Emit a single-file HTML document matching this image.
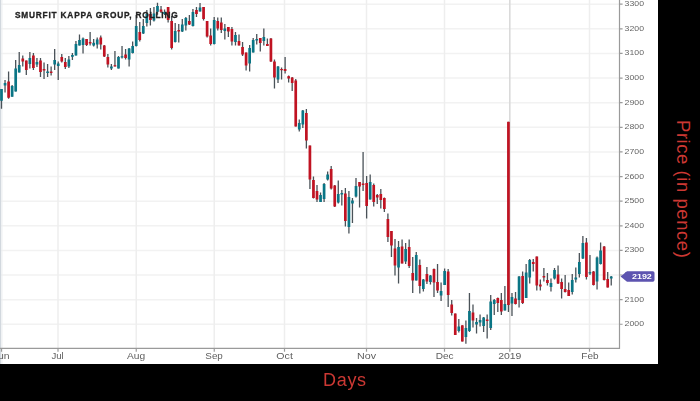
<!DOCTYPE html>
<html><head><meta charset="utf-8"><style>
html,body{margin:0;padding:0;background:#000;width:700px;height:401px;overflow:hidden;}
#w{position:absolute;left:0;top:0;width:658px;height:364px;background:#fff;will-change:transform;}
svg{display:block;}
.days{will-change:transform;position:absolute;left:322.5px;top:371px;font-family:"Liberation Sans",sans-serif;font-size:18px;letter-spacing:0.7px;color:#cc3833;line-height:18px;}
.price{position:absolute;left:691.5px;top:119.5px;font-family:"Liberation Sans",sans-serif;font-size:18.5px;letter-spacing:0.55px;color:#cc3833;line-height:18px;white-space:nowrap;transform-origin:0 0;transform:rotate(90deg);}
</style></head><body>
<div id="w"><svg width="658" height="364" viewBox="0 0 658 364"><g stroke="#f2f2f2" stroke-width="1.5"><line x1="0" y1="4.20" x2="619" y2="4.20"/><line x1="0" y1="28.82" x2="619" y2="28.82"/><line x1="0" y1="53.44" x2="619" y2="53.44"/><line x1="0" y1="78.06" x2="619" y2="78.06"/><line x1="0" y1="102.68" x2="619" y2="102.68"/><line x1="0" y1="127.30" x2="619" y2="127.30"/><line x1="0" y1="151.92" x2="619" y2="151.92"/><line x1="0" y1="176.54" x2="619" y2="176.54"/><line x1="0" y1="201.16" x2="619" y2="201.16"/><line x1="0" y1="225.78" x2="619" y2="225.78"/><line x1="0" y1="250.40" x2="619" y2="250.40"/><line x1="0" y1="275.02" x2="619" y2="275.02"/><line x1="0" y1="299.64" x2="619" y2="299.64"/><line x1="0" y1="324.26" x2="619" y2="324.26"/></g><g stroke="#eeeeee" stroke-width="1.5"><line x1="58.00" y1="0" x2="58.00" y2="348"/><line x1="136.25" y1="0" x2="136.25" y2="348"/><line x1="214.25" y1="0" x2="214.25" y2="348"/><line x1="284.50" y1="0" x2="284.50" y2="348"/><line x1="366.50" y1="0" x2="366.50" y2="348"/><line x1="444.50" y1="0" x2="444.50" y2="348"/><line x1="589.50" y1="0" x2="589.50" y2="348"/></g><rect x="0" y="0" width="1.3" height="364" fill="#d2d8de"/><line x1="2" y1="0" x2="2" y2="364" stroke="#eef0f2" stroke-width="1"/><line x1="509.8" y1="0" x2="509.8" y2="348" stroke="#dadada" stroke-width="1.6"/><path d="M1.50 89.00V108.75M5.04 80.00V92.50M8.59 71.50V98.75M12.13 85.00V96.75M15.68 60.00V91.50M19.23 52.00V72.50M22.77 55.50V66.50M26.31 60.50V75.00M29.86 52.00V68.50M33.41 53.00V70.00M36.95 58.00V67.00M40.49 58.00V77.00M44.04 62.50V79.00M47.59 64.00V77.00M51.13 66.50V75.50M54.67 49.00V70.00M58.22 61.50V80.00M61.77 54.00V62.50M65.31 58.00V69.00M68.86 56.00V68.00M72.40 53.00V60.00M75.94 41.00V55.50M79.49 34.50V45.50M83.03 37.50V53.50M86.58 39.00V46.00M90.12 32.00V45.50M93.67 39.00V46.50M97.22 37.50V48.50M100.76 35.50V49.50M104.30 45.00V57.00M107.85 54.00V67.50M111.39 64.00V70.00M114.94 51.00V66.50M118.48 56.00V68.50M122.03 46.00V58.50M125.58 49.00V59.50M129.12 48.00V66.50M132.66 41.50V53.50M136.21 15.00V46.50M139.75 22.00V41.50M143.30 19.00V34.00M146.84 10.00V26.50M150.39 8.00V25.50M153.94 7.00V21.50M157.48 2.80V14.80M161.03 6.00V13.00M164.57 9.50V15.00M168.12 7.00V22.50M171.66 16.00V49.50M175.20 23.00V42.50M178.75 24.00V42.50M182.29 19.00V32.00M185.84 17.00V30.50M189.38 15.00V25.00M192.93 9.00V26.50M196.47 7.00V17.00M200.02 3.00V11.50M203.56 7.00V20.50M207.11 21.00V37.50M210.66 28.50V45.50M214.20 17.00V44.50M217.75 17.50V30.50M221.29 17.50V33.00M224.84 24.00V39.50M228.38 27.00V37.00M231.92 27.00V45.50M235.47 32.00V45.50M239.01 34.50V45.50M242.56 42.00V56.00M246.10 52.50V70.50M249.65 45.00V71.50M253.19 38.00V52.50M256.74 34.00V44.50M260.28 38.00V51.50M263.83 28.50V45.50M267.38 38.50V46.00M270.92 38.00V62.00M274.46 59.50V88.50M278.01 66.00V83.00M281.56 67.50V79.50M285.10 57.00V73.50M288.64 75.50V82.50M292.19 77.00V91.00M295.74 79.00V126.50M299.28 119.50V131.50M302.82 110.00V128.00M306.37 109.00V148.50M309.92 145.50V189.00M313.46 176.50V198.50M317.00 185.00V202.00M320.55 192.50V202.00M324.09 183.00V202.00M327.64 171.50V180.50M331.19 166.00V189.50M334.73 185.00V207.00M338.27 180.50V203.50M341.82 190.00V205.50M345.37 188.00V226.50M348.91 191.00V233.50M352.45 198.00V223.00M356.00 178.00V197.50M359.55 182.00V207.50M363.09 152.00V191.00M366.63 176.00V218.50M370.18 174.50V199.50M373.72 183.50V206.50M377.27 194.00V204.00M380.81 189.00V208.50M384.36 197.50V212.00M387.90 213.50V242.00M391.45 231.00V257.00M395.00 239.00V275.50M398.54 241.00V283.50M402.08 239.50V263.50M405.63 243.00V264.00M409.18 239.50V268.00M412.72 257.00V293.00M416.26 252.00V280.50M419.81 259.50V293.50M423.36 279.00V291.50M426.90 267.00V284.00M430.44 275.00V284.50M433.99 268.50V297.00M437.53 264.00V293.00M441.08 282.50V301.00M444.62 268.50V285.00M448.17 269.00V307.00M451.71 300.00V315.50M455.26 313.50V335.00M458.81 319.00V332.50M462.35 325.30V341.50M465.89 320.50V343.70M469.44 293.00V332.00M472.99 304.50V327.50M476.53 318.00V333.50M480.07 314.50V326.50M483.62 317.00V332.00M487.16 314.50V338.50M490.71 295.00V330.00M494.25 299.00V315.00M497.80 297.50V312.00M501.34 293.00V315.00M504.89 286.00V310.50M508.44 121.80V312.00M511.98 293.00V316.00M515.52 292.00V304.50M519.07 276.00V307.50M522.62 271.50V304.00M526.16 264.00V298.00M529.71 259.00V283.50M533.25 259.00V271.50M536.79 256.50V290.50M540.34 279.50V290.50M543.88 268.00V281.50M547.43 273.00V285.50M550.98 278.50V291.50M554.52 268.00V279.50M558.06 265.50V284.00M561.61 278.50V298.50M565.15 275.00V292.50M568.70 282.50V296.00M572.25 274.00V294.50M575.79 267.50V282.50M579.34 253.00V277.50M582.88 236.00V259.00M586.42 238.00V279.50M589.97 255.00V275.00M593.51 271.00V285.50M597.06 256.50V289.50M600.61 242.50V264.50M604.15 246.00V280.50M607.69 272.00V287.50M611.24 276.00V285.50" stroke="#4a5258" stroke-width="1.3" fill="none"/><g fill="#0a7585"><rect x="0.15" y="89.00" width="2.7" height="11.75"/><rect x="3.69" y="83.00" width="2.7" height="2.50"/><rect x="10.79" y="86.00" width="2.7" height="10.75"/><rect x="14.33" y="68.50" width="2.7" height="23.00"/><rect x="17.88" y="65.00" width="2.7" height="7.50"/><rect x="28.51" y="58.00" width="2.7" height="6.00"/><rect x="35.60" y="62.00" width="2.7" height="2.50"/><rect x="46.23" y="71.50" width="2.7" height="1.50"/><rect x="53.32" y="60.00" width="2.7" height="4.50"/><rect x="56.87" y="63.50" width="2.7" height="2.50"/><rect x="67.51" y="59.50" width="2.7" height="7.00"/><rect x="71.05" y="55.00" width="2.7" height="1.80"/><rect x="74.59" y="44.00" width="2.7" height="11.50"/><rect x="78.14" y="40.00" width="2.7" height="5.50"/><rect x="81.69" y="38.50" width="2.7" height="6.50"/><rect x="92.32" y="42.80" width="2.7" height="2.70"/><rect x="95.87" y="39.50" width="2.7" height="5.00"/><rect x="110.05" y="66.50" width="2.7" height="2.00"/><rect x="117.14" y="57.00" width="2.7" height="11.50"/><rect x="120.68" y="56.20" width="2.7" height="1.30"/><rect x="127.77" y="48.50" width="2.7" height="11.00"/><rect x="131.31" y="46.00" width="2.7" height="7.00"/><rect x="134.86" y="26.00" width="2.7" height="20.00"/><rect x="141.95" y="26.00" width="2.7" height="7.50"/><rect x="145.50" y="14.00" width="2.7" height="9.00"/><rect x="152.59" y="13.50" width="2.7" height="7.00"/><rect x="156.13" y="6.00" width="2.7" height="5.80"/><rect x="163.22" y="12.00" width="2.7" height="2.00"/><rect x="173.85" y="31.00" width="2.7" height="11.00"/><rect x="180.94" y="24.50" width="2.7" height="7.00"/><rect x="184.49" y="18.00" width="2.7" height="7.50"/><rect x="191.58" y="12.00" width="2.7" height="14.00"/><rect x="198.67" y="7.50" width="2.7" height="4.00"/><rect x="212.85" y="20.00" width="2.7" height="24.00"/><rect x="223.49" y="28.50" width="2.7" height="2.50"/><rect x="234.12" y="35.00" width="2.7" height="7.00"/><rect x="248.30" y="48.00" width="2.7" height="15.50"/><rect x="251.84" y="40.00" width="2.7" height="12.50"/><rect x="255.39" y="39.00" width="2.7" height="1.50"/><rect x="262.48" y="37.00" width="2.7" height="4.00"/><rect x="276.66" y="66.50" width="2.7" height="13.00"/><rect x="297.93" y="123.00" width="2.7" height="6.50"/><rect x="301.47" y="110.50" width="2.7" height="14.00"/><rect x="319.20" y="195.00" width="2.7" height="7.00"/><rect x="322.74" y="184.00" width="2.7" height="15.00"/><rect x="326.29" y="174.50" width="2.7" height="5.00"/><rect x="336.92" y="194.00" width="2.7" height="8.50"/><rect x="340.47" y="193.00" width="2.7" height="1.50"/><rect x="347.56" y="197.00" width="2.7" height="30.00"/><rect x="351.10" y="200.50" width="2.7" height="3.00"/><rect x="354.65" y="186.00" width="2.7" height="10.50"/><rect x="368.83" y="182.00" width="2.7" height="17.50"/><rect x="397.19" y="247.00" width="2.7" height="20.50"/><rect x="404.28" y="249.00" width="2.7" height="12.50"/><rect x="414.91" y="255.00" width="2.7" height="25.50"/><rect x="422.00" y="279.50" width="2.7" height="9.50"/><rect x="429.09" y="275.50" width="2.7" height="6.50"/><rect x="439.73" y="291.00" width="2.7" height="4.50"/><rect x="443.27" y="271.00" width="2.7" height="14.00"/><rect x="457.45" y="326.50" width="2.7" height="4.50"/><rect x="464.54" y="328.00" width="2.7" height="9.00"/><rect x="468.09" y="311.00" width="2.7" height="20.00"/><rect x="475.18" y="322.00" width="2.7" height="2.50"/><rect x="478.72" y="320.00" width="2.7" height="2.50"/><rect x="482.27" y="317.50" width="2.7" height="8.50"/><rect x="489.36" y="301.50" width="2.7" height="26.50"/><rect x="492.90" y="300.00" width="2.7" height="4.00"/><rect x="503.54" y="304.00" width="2.7" height="6.50"/><rect x="510.63" y="297.00" width="2.7" height="6.50"/><rect x="517.72" y="276.50" width="2.7" height="23.50"/><rect x="524.81" y="272.50" width="2.7" height="25.50"/><rect x="528.36" y="260.00" width="2.7" height="17.50"/><rect x="549.62" y="283.00" width="2.7" height="4.00"/><rect x="553.17" y="270.00" width="2.7" height="8.50"/><rect x="570.89" y="280.00" width="2.7" height="12.00"/><rect x="574.44" y="277.50" width="2.7" height="2.00"/><rect x="577.99" y="262.00" width="2.7" height="12.00"/><rect x="581.53" y="243.00" width="2.7" height="15.50"/><rect x="588.62" y="272.00" width="2.7" height="1.50"/><rect x="595.71" y="257.50" width="2.7" height="24.00"/><rect x="599.25" y="250.50" width="2.7" height="13.50"/><rect x="609.89" y="276.50" width="2.7" height="2.00"/></g><g fill="#c01322"><rect x="7.24" y="81.50" width="2.7" height="16.25"/><rect x="21.42" y="58.50" width="2.7" height="3.00"/><rect x="24.96" y="60.50" width="2.7" height="9.50"/><rect x="32.05" y="55.50" width="2.7" height="12.50"/><rect x="39.14" y="60.50" width="2.7" height="11.50"/><rect x="42.69" y="69.00" width="2.7" height="1.50"/><rect x="49.78" y="71.50" width="2.7" height="1.50"/><rect x="60.41" y="57.00" width="2.7" height="4.50"/><rect x="63.96" y="62.00" width="2.7" height="5.00"/><rect x="85.23" y="39.00" width="2.7" height="6.00"/><rect x="88.78" y="42.00" width="2.7" height="1.50"/><rect x="99.41" y="37.50" width="2.7" height="7.00"/><rect x="102.95" y="45.50" width="2.7" height="11.00"/><rect x="106.50" y="57.00" width="2.7" height="7.50"/><rect x="113.59" y="65.20" width="2.7" height="1.30"/><rect x="124.23" y="54.50" width="2.7" height="3.50"/><rect x="138.41" y="32.00" width="2.7" height="8.00"/><rect x="149.04" y="14.00" width="2.7" height="6.00"/><rect x="159.68" y="9.50" width="2.7" height="2.30"/><rect x="166.77" y="7.00" width="2.7" height="13.00"/><rect x="170.31" y="21.00" width="2.7" height="27.00"/><rect x="177.40" y="30.00" width="2.7" height="1.50"/><rect x="188.03" y="21.00" width="2.7" height="3.50"/><rect x="195.12" y="10.00" width="2.7" height="4.00"/><rect x="202.22" y="7.00" width="2.7" height="12.00"/><rect x="205.76" y="21.00" width="2.7" height="15.50"/><rect x="209.31" y="35.50" width="2.7" height="8.50"/><rect x="216.40" y="21.00" width="2.7" height="7.50"/><rect x="219.94" y="22.50" width="2.7" height="7.50"/><rect x="227.03" y="27.00" width="2.7" height="4.50"/><rect x="230.57" y="29.00" width="2.7" height="12.50"/><rect x="237.66" y="41.00" width="2.7" height="4.50"/><rect x="241.21" y="47.00" width="2.7" height="7.50"/><rect x="244.75" y="52.50" width="2.7" height="13.00"/><rect x="258.93" y="38.00" width="2.7" height="5.00"/><rect x="266.02" y="44.00" width="2.7" height="2.00"/><rect x="269.57" y="38.50" width="2.7" height="23.00"/><rect x="273.11" y="61.50" width="2.7" height="16.00"/><rect x="280.20" y="69.00" width="2.7" height="1.20"/><rect x="283.75" y="69.00" width="2.7" height="2.00"/><rect x="287.29" y="76.20" width="2.7" height="2.30"/><rect x="290.84" y="77.50" width="2.7" height="5.50"/><rect x="294.38" y="80.50" width="2.7" height="46.00"/><rect x="305.02" y="113.00" width="2.7" height="27.50"/><rect x="308.56" y="145.50" width="2.7" height="34.00"/><rect x="312.11" y="180.00" width="2.7" height="18.00"/><rect x="315.65" y="191.00" width="2.7" height="8.50"/><rect x="329.83" y="169.00" width="2.7" height="19.50"/><rect x="333.38" y="185.50" width="2.7" height="21.00"/><rect x="344.01" y="193.50" width="2.7" height="27.50"/><rect x="358.19" y="182.00" width="2.7" height="4.50"/><rect x="361.74" y="183.50" width="2.7" height="1.50"/><rect x="365.28" y="183.00" width="2.7" height="23.00"/><rect x="372.37" y="185.00" width="2.7" height="17.00"/><rect x="375.92" y="195.00" width="2.7" height="2.50"/><rect x="379.46" y="194.00" width="2.7" height="6.00"/><rect x="383.01" y="198.00" width="2.7" height="11.00"/><rect x="386.55" y="219.00" width="2.7" height="18.00"/><rect x="390.10" y="231.00" width="2.7" height="14.50"/><rect x="393.64" y="248.50" width="2.7" height="17.00"/><rect x="400.73" y="246.50" width="2.7" height="17.00"/><rect x="407.82" y="247.00" width="2.7" height="19.00"/><rect x="411.37" y="273.00" width="2.7" height="7.50"/><rect x="418.46" y="265.00" width="2.7" height="21.00"/><rect x="425.55" y="274.00" width="2.7" height="7.50"/><rect x="432.64" y="269.00" width="2.7" height="13.50"/><rect x="436.18" y="282.00" width="2.7" height="8.50"/><rect x="446.82" y="271.50" width="2.7" height="23.50"/><rect x="450.36" y="304.50" width="2.7" height="8.50"/><rect x="453.91" y="313.50" width="2.7" height="21.50"/><rect x="461.00" y="325.30" width="2.7" height="16.20"/><rect x="471.63" y="312.50" width="2.7" height="8.00"/><rect x="485.81" y="319.50" width="2.7" height="1.50"/><rect x="496.45" y="298.00" width="2.7" height="5.00"/><rect x="499.99" y="300.00" width="2.7" height="11.50"/><rect x="507.08" y="121.80" width="2.7" height="183.20"/><rect x="514.17" y="298.50" width="2.7" height="5.50"/><rect x="521.26" y="276.00" width="2.7" height="27.00"/><rect x="531.90" y="262.00" width="2.7" height="2.00"/><rect x="535.44" y="256.50" width="2.7" height="29.00"/><rect x="538.99" y="284.50" width="2.7" height="2.00"/><rect x="542.53" y="276.00" width="2.7" height="1.50"/><rect x="546.08" y="280.00" width="2.7" height="3.00"/><rect x="556.71" y="274.50" width="2.7" height="9.00"/><rect x="560.26" y="282.00" width="2.7" height="7.00"/><rect x="563.80" y="289.00" width="2.7" height="3.00"/><rect x="567.35" y="290.00" width="2.7" height="6.00"/><rect x="585.07" y="242.50" width="2.7" height="34.50"/><rect x="592.16" y="271.50" width="2.7" height="13.50"/><rect x="602.80" y="246.50" width="2.7" height="33.50"/><rect x="606.34" y="279.00" width="2.7" height="8.50"/></g><g stroke="#9a9a9a" stroke-width="1.2" fill="none"><path d="M0 348.4H619.5V0"/><path d="M619.5 4.20H622.6M619.5 28.82H622.6M619.5 53.44H622.6M619.5 78.06H622.6M619.5 102.68H622.6M619.5 127.30H622.6M619.5 151.92H622.6M619.5 176.54H622.6M619.5 201.16H622.6M619.5 225.78H622.6M619.5 250.40H622.6M619.5 275.02H622.6M619.5 299.64H622.6M619.5 324.26H622.6M1.50 348.4V351.8M58.00 348.4V351.8M136.25 348.4V351.8M214.25 348.4V351.8M284.50 348.4V351.8M366.50 348.4V351.8M444.50 348.4V351.8M509.80 348.4V351.8M589.50 348.4V351.8"/></g><g font-family="Liberation Sans, sans-serif" font-size="7.5" fill="#666"><text x="624.6" y="6.20" textLength="19.4" lengthAdjust="spacingAndGlyphs">3300</text><text x="624.6" y="30.82" textLength="19.4" lengthAdjust="spacingAndGlyphs">3200</text><text x="624.6" y="55.44" textLength="19.4" lengthAdjust="spacingAndGlyphs">3100</text><text x="624.6" y="80.06" textLength="19.4" lengthAdjust="spacingAndGlyphs">3000</text><text x="624.6" y="104.68" textLength="19.4" lengthAdjust="spacingAndGlyphs">2900</text><text x="624.6" y="129.30" textLength="19.4" lengthAdjust="spacingAndGlyphs">2800</text><text x="624.6" y="153.92" textLength="19.4" lengthAdjust="spacingAndGlyphs">2700</text><text x="624.6" y="178.54" textLength="19.4" lengthAdjust="spacingAndGlyphs">2600</text><text x="624.6" y="203.16" textLength="19.4" lengthAdjust="spacingAndGlyphs">2500</text><text x="624.6" y="227.78" textLength="19.4" lengthAdjust="spacingAndGlyphs">2400</text><text x="624.6" y="252.40" textLength="19.4" lengthAdjust="spacingAndGlyphs">2300</text><text x="624.6" y="277.02" textLength="19.4" lengthAdjust="spacingAndGlyphs">2200</text><text x="624.6" y="301.64" textLength="19.4" lengthAdjust="spacingAndGlyphs">2100</text><text x="624.6" y="326.26" textLength="19.4" lengthAdjust="spacingAndGlyphs">2000</text></g><g font-family="Liberation Sans, sans-serif" font-size="8.6" fill="#5e5e5e"><text x="-7.20" y="358.9" textLength="16.8" lengthAdjust="spacingAndGlyphs">Jun</text><text x="51.45" y="358.9" textLength="12.3" lengthAdjust="spacingAndGlyphs">Jul</text><text x="126.90" y="358.9" textLength="18.2" lengthAdjust="spacingAndGlyphs">Aug</text><text x="205.35" y="358.9" textLength="17.5" lengthAdjust="spacingAndGlyphs">Sep</text><text x="276.35" y="358.9" textLength="16.5" lengthAdjust="spacingAndGlyphs">Oct</text><text x="357.10" y="358.9" textLength="19" lengthAdjust="spacingAndGlyphs">Nov</text><text x="435.65" y="358.9" textLength="17.9" lengthAdjust="spacingAndGlyphs">Dec</text><text x="498.15" y="358.9" textLength="23.3" lengthAdjust="spacingAndGlyphs">2019</text><text x="581.25" y="358.9" textLength="17.3" lengthAdjust="spacingAndGlyphs">Feb</text></g><text x="14.9" y="17.9" font-family="Liberation Sans, sans-serif" font-weight="bold" font-size="8.3" fill="#222" stroke="#222" stroke-width="0.3" textLength="162.8" lengthAdjust="spacing">SMURFIT KAPPA GROUP, ROLLING</text><path d="M620.5 276.5L627 271.3H652.8Q654.5 271.3 654.5 273V280Q654.5 281.7 652.8 281.7H627Z" fill="#5d54b0"/><text x="632" y="279.3" font-family="Liberation Sans, sans-serif" font-weight="bold" font-size="7" fill="#fff" textLength="19.8" lengthAdjust="spacingAndGlyphs">2192</text></svg></div>
<div class="days">Days</div>
<div class="price">Price (in pence)</div>
</body></html>
